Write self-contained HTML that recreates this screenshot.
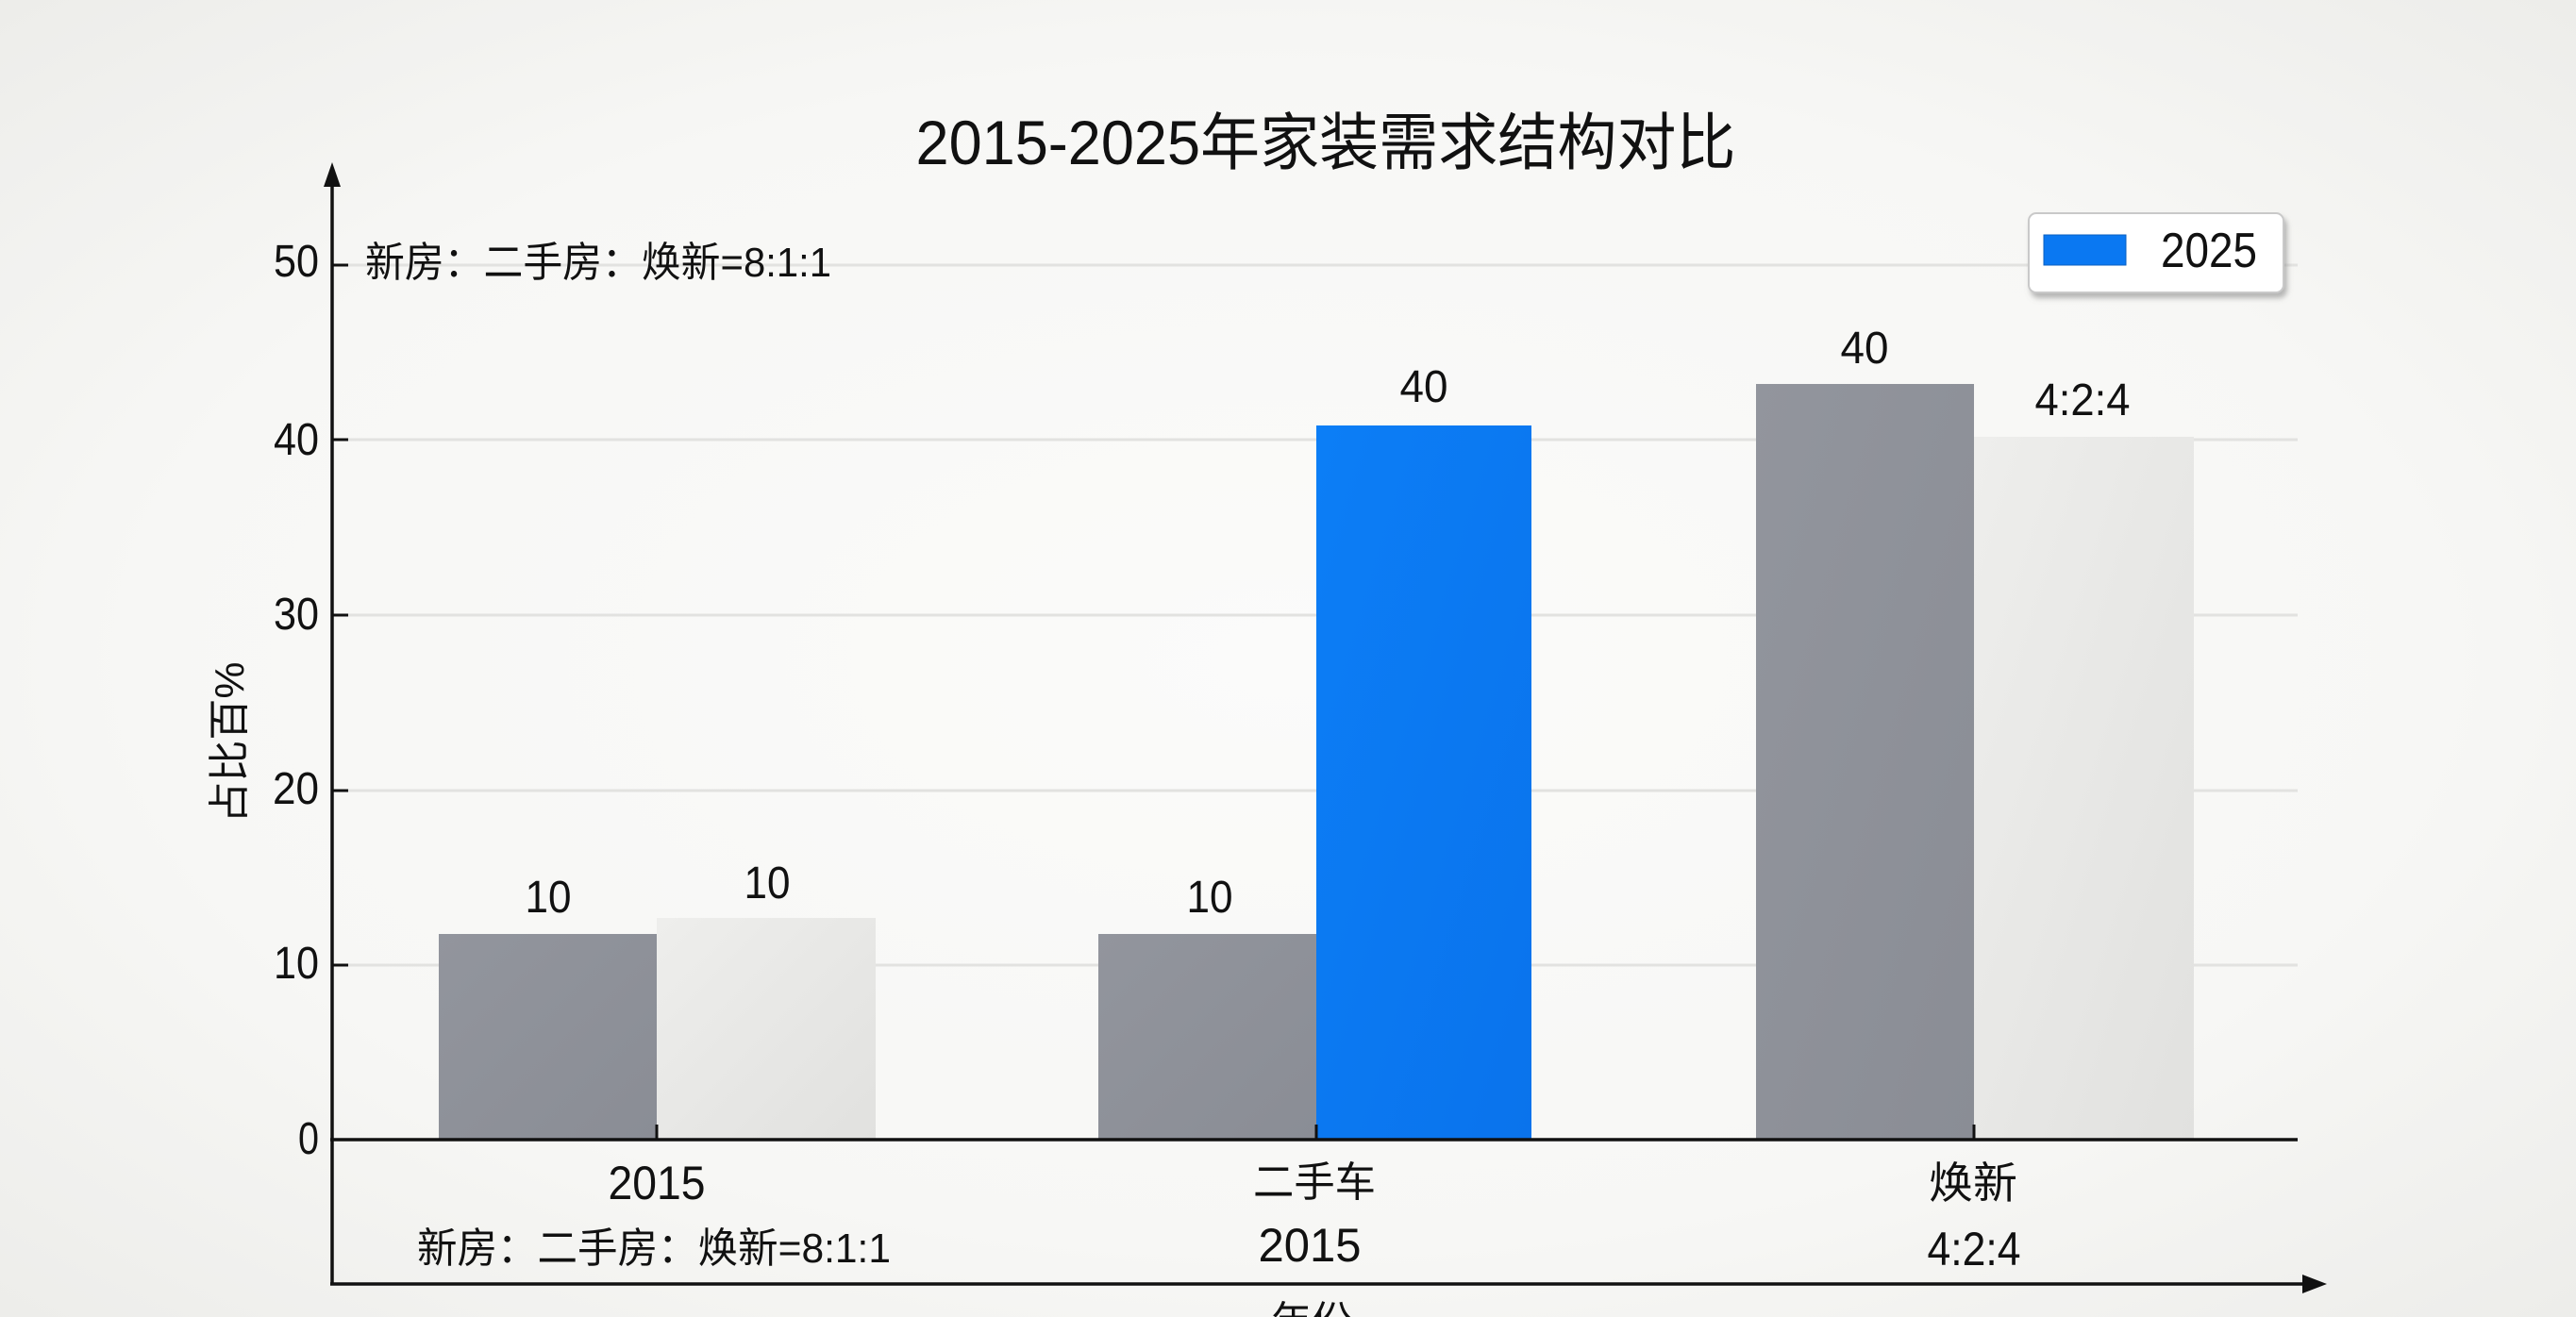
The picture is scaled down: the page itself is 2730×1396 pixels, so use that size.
<!DOCTYPE html>
<html>
<head>
<meta charset="utf-8">
<style>
html,body{margin:0;padding:0;background:#f3f3f1;}
svg{display:block;}
text{font-family:"Liberation Sans","Noto Sans CJK SC",sans-serif;fill:#111;}
</style>
</head>
<body>
<svg width="2730" height="1396" viewBox="0 0 2730 1396" xmlns="http://www.w3.org/2000/svg">
<defs>
<radialGradient id="bg" cx="0.5" cy="0.5" r="0.75">
<stop offset="0" stop-color="#fbfbfa"/>
<stop offset="0.6" stop-color="#f7f7f5"/>
<stop offset="1" stop-color="#ebebe8"/>
</radialGradient>
<linearGradient id="lg" x1="0" y1="0" x2="1" y2="1">
<stop offset="0" stop-color="#eeeeec"/>
<stop offset="1" stop-color="#e1e1df"/>
</linearGradient>
<linearGradient id="gg" x1="0" y1="0" x2="1" y2="1">
<stop offset="0" stop-color="#92959d"/>
<stop offset="1" stop-color="#8a8d95"/>
</linearGradient>
<linearGradient id="bb" x1="0" y1="0" x2="1" y2="1">
<stop offset="0" stop-color="#0c7ef6"/>
<stop offset="1" stop-color="#0a73ec"/>
</linearGradient>
<filter id="sh" x="-10%" y="-20%" width="130%" height="160%">
<feDropShadow dx="3" dy="5" stdDeviation="3" flood-color="#888" flood-opacity="0.6"/>
</filter>
</defs>
<rect x="0" y="0" width="2730" height="1396" fill="url(#bg)"/>

<!-- title -->
<text x="1405" y="174" font-size="66" text-anchor="middle" textLength="869" lengthAdjust="spacingAndGlyphs">2015-2025年家装需求结构对比</text>

<!-- gridlines -->
<g stroke="#e2e2e0" stroke-width="3">
<line x1="368" y1="281" x2="2435" y2="281"/>
<line x1="368" y1="466" x2="2435" y2="466"/>
<line x1="368" y1="652" x2="2435" y2="652"/>
<line x1="368" y1="838" x2="2435" y2="838"/>
<line x1="368" y1="1023" x2="2435" y2="1023"/>
</g>

<!-- bars -->
<rect x="465" y="990" width="231" height="218" fill="url(#gg)"/>
<rect x="696" y="973" width="232" height="235" fill="url(#lg)"/>
<rect x="1164" y="990" width="231" height="218" fill="url(#gg)"/>
<rect x="1395" y="451" width="228" height="757" fill="url(#bb)"/>
<rect x="1861" y="407" width="231" height="801" fill="url(#gg)"/>
<rect x="2092" y="463" width="233" height="745" fill="url(#lg)"/>

<!-- value labels -->
<g font-size="48">
<text x="581" y="967" text-anchor="middle" textLength="49" lengthAdjust="spacingAndGlyphs">10</text>
<text x="813" y="952" text-anchor="middle" textLength="49" lengthAdjust="spacingAndGlyphs">10</text>
<text x="1282" y="967" text-anchor="middle" textLength="49" lengthAdjust="spacingAndGlyphs">10</text>
<text x="1509" y="426" text-anchor="middle" textLength="51" lengthAdjust="spacingAndGlyphs">40</text>
<text x="1976" y="385" text-anchor="middle" textLength="51" lengthAdjust="spacingAndGlyphs">40</text>
<text x="2207" y="440" text-anchor="middle" textLength="101" lengthAdjust="spacingAndGlyphs">4:2:4</text>
</g>

<!-- y ticks -->
<g stroke="#111" stroke-width="3">
<line x1="352" y1="281" x2="369" y2="281"/>
<line x1="352" y1="466" x2="369" y2="466"/>
<line x1="352" y1="652" x2="369" y2="652"/>
<line x1="352" y1="838" x2="369" y2="838"/>
<line x1="352" y1="1023" x2="369" y2="1023"/>
<line x1="696" y1="1192" x2="696" y2="1208"/>
<line x1="1395" y1="1192" x2="1395" y2="1208"/>
<line x1="2092" y1="1192" x2="2092" y2="1208"/>
</g>

<!-- y tick labels -->
<g font-size="48" text-anchor="end">
<text x="338" y="293" textLength="48" lengthAdjust="spacingAndGlyphs">50</text>
<text x="338" y="482" textLength="48" lengthAdjust="spacingAndGlyphs">40</text>
<text x="338" y="667" textLength="48" lengthAdjust="spacingAndGlyphs">30</text>
<text x="338" y="852" textLength="49" lengthAdjust="spacingAndGlyphs">20</text>
<text x="338" y="1037" textLength="48" lengthAdjust="spacingAndGlyphs">10</text>
<text x="338" y="1223" textLength="22" lengthAdjust="spacingAndGlyphs">0</text>
</g>

<!-- axes -->
<g stroke="#111" stroke-width="3.5" fill="none">
<line x1="352" y1="190" x2="352" y2="1362"/>
<line x1="350" y1="1208" x2="2435" y2="1208"/>
<line x1="350" y1="1361" x2="2448" y2="1361"/>
</g>
<polygon points="352,172 343,198 361,198" fill="#111"/>
<polygon points="2466,1361 2440,1351 2440,1371" fill="#111"/>

<!-- annotation top -->
<text x="387" y="293" font-size="44" textLength="494" lengthAdjust="spacingAndGlyphs">新房：二手房：焕新=8:1:1</text>

<!-- y axis label -->
<text transform="translate(258,787) rotate(-90)" x="0" y="0" font-size="44" text-anchor="middle" textLength="171" lengthAdjust="spacingAndGlyphs">占比百%</text>

<!-- x labels -->
<g text-anchor="middle">
<text x="696" y="1271" font-size="50" textLength="103" lengthAdjust="spacingAndGlyphs">2015</text>
<text x="693" y="1338" font-size="44" textLength="502" lengthAdjust="spacingAndGlyphs">新房：二手房：焕新=8:1:1</text>
<text x="1393" y="1268" font-size="44" textLength="130" lengthAdjust="spacingAndGlyphs">二手车</text>
<text x="1388" y="1337" font-size="50" textLength="109" lengthAdjust="spacingAndGlyphs">2015</text>
<text x="2091" y="1270" font-size="46" textLength="94" lengthAdjust="spacingAndGlyphs">焕新</text>
<text x="2092" y="1341" font-size="50" textLength="99" lengthAdjust="spacingAndGlyphs">4:2:4</text>
<text x="1390" y="1416" font-size="44" textLength="86" lengthAdjust="spacingAndGlyphs">年份</text>
</g>

<!-- legend -->
<rect x="2150" y="226" width="270" height="84" rx="8" ry="8" fill="#ffffff" stroke="#c9c9c9" stroke-width="2" filter="url(#sh)"/>
<rect x="2166" y="249" width="87" height="32" fill="#0a78f2" stroke="#0a5fc0" stroke-width="1"/>
<text x="2290" y="283" font-size="52" textLength="102" lengthAdjust="spacingAndGlyphs">2025</text>
</svg>
</body>
</html>
